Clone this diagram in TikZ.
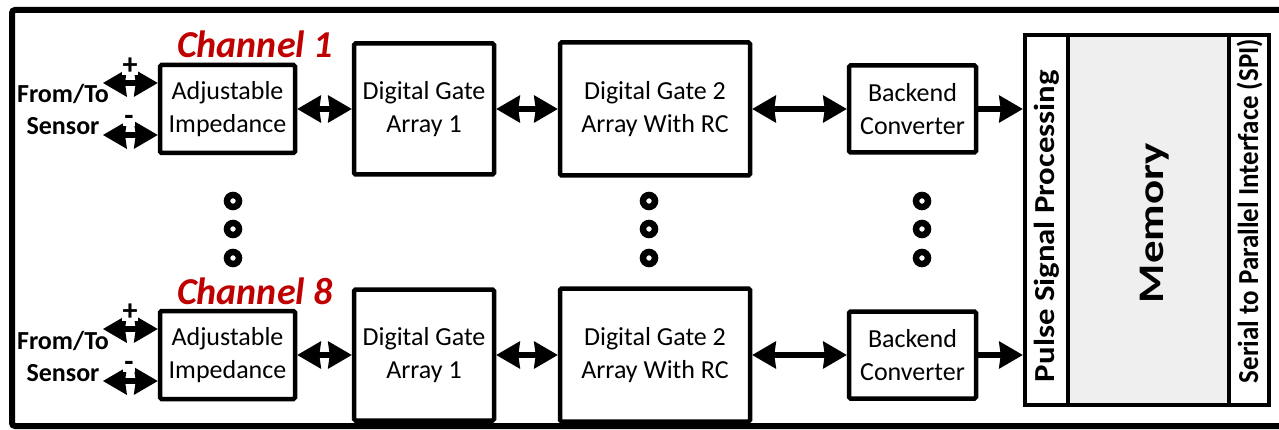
\documentclass[tikz,border=0pt]{standalone}
\usepackage{fontspec}
\setmainfont{Carlito}
\usetikzlibrary{arrows.meta}
\definecolor{chred}{RGB}{192,0,0}
\definecolor{memgray}{RGB}{239,239,239}
\tikzset{
  blk/.style={draw, line width=4.5pt, rounded corners=1.5pt, fill=white,
    inner sep=0pt, align=center, font=\fontsize{26}{33}\selectfont},
  col/.style={draw, line width=4.5pt, inner sep=0pt, minimum height=370pt},
  bighead/.tip={Stealth[length=24pt 0 0, width=28pt 0 0, inset=2pt 0 0, line width=0pt]},
  biarrow/.style={line width=6.5pt, bighead-bighead},
  onearrow/.style={line width=6.5pt, -bighead},
  chlabel/.style={text=chred, anchor=base, inner sep=0pt,
    font=\fontsize{38}{40}\selectfont\bfseries\itshape},
  sidetxt/.style={anchor=base, inner sep=0pt, font=\fontsize{26}{28}\selectfont\bfseries},
  pmsign/.style={fill=white, inner sep=1pt, font=\fontsize{30}{30}\selectfont\bfseries},
  ring/.style={line width=6.5pt},
  vtxt/.style={rotate=90, anchor=base, inner sep=0pt},
}
\begin{document}
\begin{tikzpicture}[x=1pt,y=-1pt]
\clip (0,0) rectangle (1279,430);
\fill[white] (0,0) rectangle (1279,430);

% outer frame
\draw[line width=6pt, rounded corners=3pt] (12,10) rectangle (1300,426);

% output block: pulse processing | memory | SPI
\node[col, minimum width=43pt] (psp) at (1046.5,220) {};
\node[col, minimum width=161pt, fill=memgray] (mem) at (1148.5,220) {};
\node[col, minimum width=40pt] (spi) at (1249,220) {};
\node[vtxt, font=\fontsize{29}{29}\selectfont\bfseries] (psptxt) at (1054,226)
  {\resizebox{312pt}{\height}{Pulse Signal Processing}};
\node[vtxt, font=\fontsize{36}{36}\selectfont\bfseries] (memtxt) at (1163,223)
  {\resizebox{160pt}{\height}{Memory}};
\node[vtxt, font=\fontsize{29}{29}\selectfont\bfseries] (spitxt) at (1258,211)
  {\resizebox{344pt}{\height}{Serial to Parallel Interface (SPI)}};

% two channel rows
\foreach \r/\dy in {1/0,8/246}{
  \node[chlabel] (ch\r) at (255,{58+\dy}) {Channel \r};
  \node[blk, minimum width=135pt, minimum height=88pt] (imp\r) at (227.5,{109+\dy}) {Adjustable\\Impedance};
  \node[blk, minimum width=140pt, minimum height=131pt] (dga\r) at (424,{109+\dy}) {Digital Gate\\Array 1};
  \node[blk, minimum width=190pt, minimum height=133pt] (dgb\r) at (655,{109+\dy}) {Digital Gate 2\\Array With RC};
  \node[blk, minimum width=127pt, minimum height=87pt] (bec\r) at (912.5,{109+\dy}) {Backend\\Converter};
  \draw[biarrow] (imp\r) -- (dga\r);
  \draw[biarrow] (dga\r) -- (dgb\r);
  \draw[biarrow] (dgb\r) -- (bec\r);
  \draw[onearrow] (bec\r.east) -- (bec\r.east -| psp.west);
  % sensor connections
  \coordinate (ip\r) at (103,{83+\dy});
  \coordinate (im\r) at (103,{135+\dy});
  \draw[biarrow] (ip\r) -- (ip\r -| imp\r.west);
  \draw[biarrow] (im\r) -- (im\r -| imp\r.west);
  \node[pmsign] (plus\r) at (130,{66+\dy}) {+};
  \node[pmsign] (minus\r) at (129,{120+\dy}) {-};
  \node[sidetxt] (ft\r) at (63,{103+\dy}) {From/To};
  \node[sidetxt] (sn\r) at (63,{135+\dy}) {Sensor};
}

% continuation marks between the rows
\foreach \x in {233,649,922}{
  \foreach \y in {201,229,258}{
    \draw[ring] (\x,\y) circle[radius=6pt];
  }
}
\end{tikzpicture}
\end{document}
